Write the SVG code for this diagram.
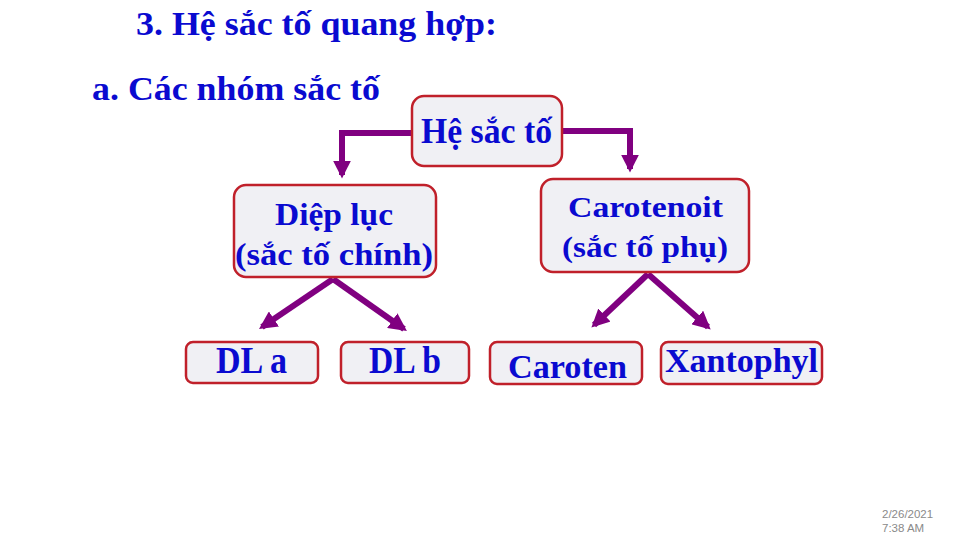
<svg xmlns="http://www.w3.org/2000/svg" width="960" height="540" viewBox="0 0 960 540">
<defs>
<style>
.t{font-family:"Liberation Serif","Times New Roman",serif;font-weight:bold;fill:#0a0ad0;}
.box{fill:#f0f0f4;stroke:#c0202a;stroke-width:2.5;}
.c{fill:none;stroke:#800080;stroke-width:6;}
.d{font-family:"Liberation Sans",Arial,sans-serif;font-size:11.5px;fill:#8a8a8a;}
</style>
<marker id="ah" viewBox="0 0 10 10" refX="8" refY="5" markerWidth="3" markerHeight="3" orient="auto" markerUnits="strokeWidth">
<path d="M0,0 L10,5 L0,10 z" fill="#800080"/>
</marker>
</defs>
<rect width="960" height="540" fill="#ffffff"/>
<text class="t" x="136" y="35" font-size="33" textLength="361" lengthAdjust="spacingAndGlyphs">3. Hệ sắc tố quang hợp:</text>
<text class="t" x="92" y="100" font-size="33" textLength="288" lengthAdjust="spacingAndGlyphs">a. Các nhóm sắc tố</text>
<g id="connectors">
<path class="c" d="M412,133 L342,133 L342,175" marker-end="url(#ah)"/>
<path class="c" d="M562,131 L630,131 L630,169" marker-end="url(#ah)"/>
<path class="c" d="M333,279 L262,327" marker-end="url(#ah)"/>
<path class="c" d="M333,279 L404,329" marker-end="url(#ah)"/>
<path class="c" d="M648,274 L594,325" marker-end="url(#ah)"/>
<path class="c" d="M648,274 L708,327" marker-end="url(#ah)"/>
</g>
<g id="he-sac-to">
<rect class="box" x="412" y="96" width="150" height="70" rx="12"/>
<text class="t" x="421" y="143" font-size="36" textLength="131" lengthAdjust="spacingAndGlyphs">Hệ sắc tố</text>
</g>
<g id="diep-luc">
<rect class="box" x="234" y="185" width="202" height="92" rx="12"/>
<text class="t" x="275" y="225" font-size="31" textLength="118" lengthAdjust="spacingAndGlyphs">Diệp lục</text>
<text class="t" x="235" y="265" font-size="31" textLength="198" lengthAdjust="spacingAndGlyphs">(sắc tố chính)</text>
</g>
<g id="carotenoit">
<rect class="box" x="541" y="179" width="208" height="93" rx="12"/>
<text class="t" x="568" y="217" font-size="30" textLength="155" lengthAdjust="spacingAndGlyphs">Carotenoit</text>
<text class="t" x="562" y="257" font-size="30" textLength="166" lengthAdjust="spacingAndGlyphs">(sắc tố phụ)</text>
</g>
<g id="dl-a">
<rect class="box" x="186" y="342" width="132" height="41" rx="7"/>
<text class="t" x="216" y="373" font-size="37" textLength="71" lengthAdjust="spacingAndGlyphs">DL a</text>
</g>
<g id="dl-b">
<rect class="box" x="341" y="342" width="128" height="41" rx="7"/>
<text class="t" x="369" y="373" font-size="37" textLength="72" lengthAdjust="spacingAndGlyphs">DL b</text>
</g>
<g id="caroten">
<rect class="box" x="490" y="342" width="152" height="42" rx="7"/>
<text class="t" x="508" y="378" font-size="34" textLength="119" lengthAdjust="spacingAndGlyphs">Caroten</text>
</g>
<g id="xantophyl">
<rect class="box" x="661" y="342" width="161" height="42" rx="7"/>
<text class="t" x="665" y="372" font-size="33" textLength="153" lengthAdjust="spacingAndGlyphs">Xantophyl</text>
</g>
<text class="d" x="882" y="518">2/26/2021</text>
<text class="d" x="882" y="532">7:38 AM</text>
</svg>
